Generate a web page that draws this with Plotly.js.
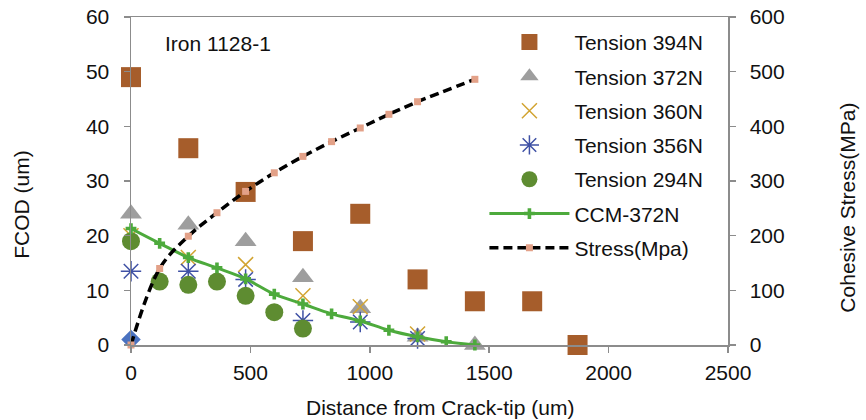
<!DOCTYPE html>
<html>
<head>
<meta charset="utf-8">
<script src="https://cdn.plot.ly/plotly-3.0.1.min.js"></script>
<style>html,body{margin:0;padding:0;background:#fff;}#chart{width:866px;height:420px;}</style>
</head>
<body>
<div id="chart"></div>
<script>
// Data
const diamondX = [0];
const diamondY = [1];

const t394X = [0, 240, 480, 720, 960, 1200, 1440, 1680, 1870];
const t394Y = [49, 36, 28, 19, 24, 12, 8, 8, 0];

const t372X = [0, 240, 480, 720, 960, 1200, 1440];
const t372Y = [24, 22, 19, 12.4, 6.7, 1.5, 0];

const t360X = [0, 240, 480, 720, 960, 1200];
const t360Y = [20, 16, 14.7, 9, 7, 2];

const t356X = [0, 240, 480, 720, 960, 1200];
const t356Y = [13.5, 13.5, 12, 4.5, 4.2, 1.2];

const t294X = [0, 120, 240, 360, 480, 600, 720];
const t294Y = [19, 11.6, 11, 11.6, 9, 6, 3];

const ccmX = [0, 120, 240, 360, 480, 600, 720, 840, 960, 1080, 1200, 1320, 1440];
const ccmY = [21.3, 18.6, 16.0, 14.1, 12.1, 9.3, 7.5, 5.7, 4.4, 2.7, 1.5, 0.6, 0];

const stressX = [0, 120, 240, 360, 480, 600, 720, 840, 960, 1080, 1200, 1440];
const stressY = [0, 140, 199, 242, 281, 315, 345, 372, 397, 422, 445, 486];

const xTicks = [0, 500, 1000, 1500, 2000, 2500];
const yTicks = [0, 10, 20, 30, 40, 50, 60];
const y2Ticks = [0, 100, 200, 300, 400, 500, 600];

const FONT = 'Liberation Sans, Arial, sans-serif';
const FS = 21;

const traces = [
  {x: diamondX, y: diamondY, mode: 'markers', type: 'scatter', showlegend: false, cliponaxis: false,
   marker: {symbol: 'diamond', size: 15, color: '#4A72C0'}},
  {x: t394X, y: t394Y, name: 'Tension 394N', mode: 'markers', type: 'scatter', legendgroup: 'a', cliponaxis: false,
   marker: {symbol: 'square', size: 20, color: '#A65D2B'}},
  {x: t372X, y: t372Y, name: 'Tension 372N', mode: 'markers', type: 'scatter', legendgroup: 'b', cliponaxis: false,
   marker: {symbol: 'triangle-up', size: 19, color: '#9E9E9E'}},
  {x: t360X, y: t360Y, name: 'Tension 360N', mode: 'markers', type: 'scatter', legendgroup: 'c', cliponaxis: false,
   marker: {symbol: 'x-thin', size: 15, color: '#D2A432', line: {color: '#D2A432', width: 1.5}}},
  {x: t356X, y: t356Y, name: 'Tension 356N', mode: 'markers', type: 'scatter', legendgroup: 'd', cliponaxis: false,
   marker: {symbol: 'asterisk', size: 17, color: '#3F51A5', line: {color: '#3F51A5', width: 1.5}}},
  {x: t294X, y: t294Y, name: 'Tension 294N', mode: 'markers', type: 'scatter', legendgroup: 'e', cliponaxis: false,
   marker: {symbol: 'circle', size: 18, color: '#5E8C31'}},
  {x: ccmX, y: ccmY, name: 'CCM-372N', mode: 'lines+markers', type: 'scatter', legendgroup: 'f', cliponaxis: false,
   line: {color: '#4DAA3C', width: 3, shape: 'spline'},
   marker: {symbol: 'cross', size: 9, color: '#4DAA3C'}},
  {x: stressX, y: stressY, name: 'Stress(Mpa)', mode: 'lines+markers', type: 'scatter', yaxis: 'y2', legendgroup: 'g', cliponaxis: false,
   line: {color: '#000000', width: 3.5, dash: '9px,5px', shape: 'spline'},
   marker: {symbol: 'square', size: 7, color: '#E3A188'}}
];

const layout = {
  width: 866, height: 420,
  margin: {l: 131, r: 138, t: 17, b: 75},
  paper_bgcolor: '#ffffff', plot_bgcolor: '#ffffff',
  font: {family: FONT, size: FS, color: '#111'},
  showlegend: true,
  legend: {x: 0.592, y: 0.985, xanchor: 'left', yanchor: 'top', bgcolor: 'rgba(0,0,0,0)',
           font: {family: FONT, size: FS, color: '#111'}, itemwidth: 80, tracegroupgap: 4, itemsizing: 'trace'},
  xaxis: {range: [0, 2500], tickvals: xTicks, showgrid: false, zeroline: false,
          showline: true, linecolor: '#8C8C8C', linewidth: 1.5, mirror: true,
          ticks: 'outside', ticklen: 6, tickcolor: '#8C8C8C', tickwidth: 1.5,
          tickfont: {family: FONT, size: FS, color: '#111'}, ticklabelstandoff: 2},
  yaxis: {range: [0, 60], tickvals: yTicks, showgrid: false, zeroline: false,
          showline: true, linecolor: '#8C8C8C', linewidth: 1.5,
          ticks: 'outside', ticklen: 6, tickcolor: '#8C8C8C', tickwidth: 1.5,
          tickfont: {family: FONT, size: FS, color: '#111'}, ticklabelstandoff: 10},
  yaxis2: {range: [0, 600], tickvals: y2Ticks, overlaying: 'y', side: 'right', showgrid: false, zeroline: false,
          showline: true, linecolor: '#8C8C8C', linewidth: 1.5,
          ticks: 'outside', ticklen: 6, tickcolor: '#8C8C8C', tickwidth: 1.5,
          tickfont: {family: FONT, size: FS, color: '#111'}, ticklabelstandoff: 10},
  annotations: [
    {text: 'Iron 1128-1', xref: 'paper', yref: 'paper', x: 0.054, y: 0.92, xanchor: 'left', yanchor: 'middle',
     showarrow: false, font: {family: FONT, size: FS, color: '#111'}},
    {text: 'Distance from Crack-tip (um)', xref: 'paper', yref: 'paper', x: 0.518, y: -0.19, xanchor: 'center', yanchor: 'middle',
     showarrow: false, font: {family: FONT, size: FS, color: '#111'}},
    {text: 'FCOD (um)', xref: 'paper', yref: 'paper', x: -0.183, y: 0.43, xanchor: 'center', yanchor: 'middle', textangle: -90,
     showarrow: false, font: {family: FONT, size: FS, color: '#111'}},
    {text: 'Cohesive Stress(MPa)', xref: 'paper', yref: 'paper', x: 1.2, y: 0.42, xanchor: 'center', yanchor: 'middle', textangle: -90,
     showarrow: false, font: {family: FONT, size: FS, color: '#111'}}
  ]
};

Plotly.newPlot('chart', traces, layout, {displayModeBar: false, staticPlot: true});
</script>
</body>
</html>
